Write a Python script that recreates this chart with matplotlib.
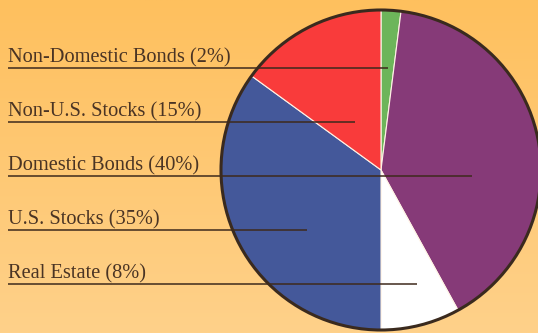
import numpy as np
import matplotlib
matplotlib.use("Agg")
import matplotlib.pyplot as plt
from matplotlib.patches import Circle

# Asset allocation
slice_names = ["Non-Domestic Bonds", "Domestic Bonds", "Real Estate", "U.S. Stocks", "Non-U.S. Stocks"]
slice_pcts = [2, 40, 8, 35, 15]
slice_colors = ["#6DB55A", "#863A78", "#FFFFFF", "#44589A", "#F93B3B"]

# Label list, top to bottom, with the x where each leader line ends
label_order = ["Non-Domestic Bonds", "Non-U.S. Stocks", "Domestic Bonds", "U.S. Stocks", "Real Estate"]
leader_end_x = [388, 355, 472, 307, 417]

W, H = 538, 333
fig = plt.figure(figsize=(W / 100, H / 100), dpi=100)
ax = fig.add_axes([0, 0, 1, 1])
ax.set_xlim(0, W)
ax.set_ylim(0, H)
ax.set_aspect("equal")
ax.axis("off")

# warm vertical gradient background
grad = np.linspace(0, 1, 256)[:, None]
top = np.array([254, 192, 94]) / 255
bottom = np.array([255, 209, 138]) / 255
img = top + (bottom - top) * grad[..., None]
ax.imshow(np.repeat(img, 2, axis=1), extent=[0, W, 0, H], origin="upper", aspect="auto", zorder=0)

cx, cy, r = 381, H - 170, 160
wedges, _ = ax.pie(slice_pcts, colors=slice_colors, startangle=90, counterclock=False,
                   center=(cx, cy), radius=r, frame=True,
                   wedgeprops=dict(edgecolor="#FFF3E6", linewidth=0.8))
for w in wedges:
    w.set_zorder(2)
ax.add_patch(Circle((cx, cy), r, fill=False, edgecolor="#3A2A1E", linewidth=2.2, zorder=3))
ax.set_xlim(0, W)
ax.set_ylim(0, H)
ax.axis("off")

pct_of = dict(zip(slice_names, slice_pcts))
text_color = "#4A3424"
for i, (name, xe) in enumerate(zip(label_order, leader_end_x)):
    y_line = H - (68 + 54 * i)
    ax.plot([8, xe], [y_line, y_line], color="#3E2A1C", linewidth=1.1, zorder=4,
            solid_capstyle="butt")
    ax.text(8, y_line + 6, f"{name} ({pct_of[name]}%)", family="Liberation Serif",
            fontsize=14.7, color=text_color, ha="left", va="baseline", zorder=5)

fig.savefig("out.png", dpi=100)
